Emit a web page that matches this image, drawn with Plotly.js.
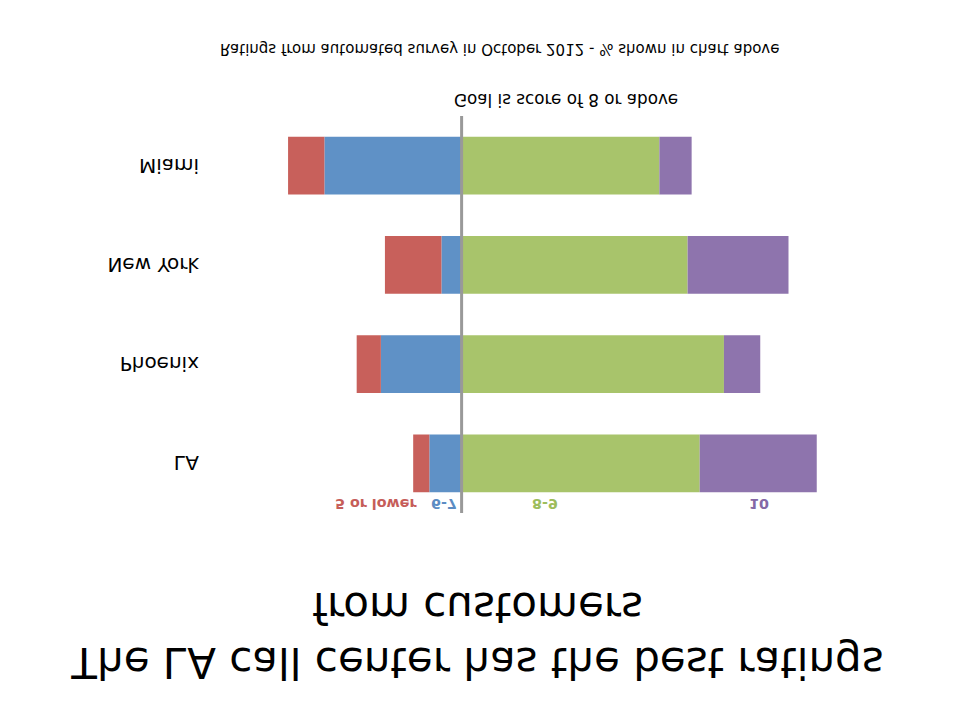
<!DOCTYPE html>
<html>
<head>
<meta charset="utf-8">
<script src="https://cdn.plot.ly/plotly-3.0.1.min.js"></script>
<style>
  html, body { margin: 0; padding: 0; background: #ffffff; }
  #chart { width: 960px; height: 720px; transform: scaleY(-1); transform-origin: 50% 50%; }
</style>
</head>
<body>
<div id="chart"></div>
<script>
// Call centers (top to bottom in the unflipped chart)
const categories = ['LA', 'Phoenix', 'New York', 'Miami'];
// Share of ratings, %
const scoreLow  = [4, 6, 14, 9];    // 5 or lower
const scoreMid  = [8, 20, 5, 34];   // 6-7
const scoreHigh = [59, 65, 56, 49]; // 8-9
const scoreTop  = [29, 9, 25, 8];   // 10
const seriesNames = ['5 or lower', '6-7', '8-9', '10'];

const titleText = 'The LA call center has the best ratings<br>from customers';
const goalText = 'Goal is score of 8 or above';
const noteText = 'Ratings from automated survey in October 2012 - % shown in chart above';

const colors = { low: '#C8605B', mid: '#5F91C6', high: '#A8C46B', top: '#8E74AD' };

const traces = [
  { name: seriesNames[1], y: categories, x: scoreMid.map(v => -v), marker: { color: colors.mid } },
  { name: seriesNames[0], y: categories, x: scoreLow.map(v => -v), marker: { color: colors.low } },
  { name: seriesNames[2], y: categories, x: scoreHigh, marker: { color: colors.high } },
  { name: seriesNames[3], y: categories, x: scoreTop, marker: { color: colors.top } }
].map(t => Object.assign({ type: 'bar', orientation: 'h', hoverinfo: 'skip' }, t));

const labelFont = (c) => ({ family: 'DejaVu Sans', size: 14.3, color: c, weight: 'bold' });

const layout = {
  width: 960,
  height: 720,
  paper_bgcolor: '#ffffff',
  plot_bgcolor: '#ffffff',
  showlegend: false,
  barmode: 'relative',
  bargap: 0.42,
  margin: { l: 280.35, r: 115.45, t: 207, b: 115.7, pad: 0 },
  title: {
    text: titleText,
    x: 0.4974, xanchor: 'center',
    y: 0.9, yref: 'container', yanchor: 'top',
    font: { family: 'DejaVu Sans', size: 42, color: '#000000' }
  },
  xaxis: {
    range: [-45, 95],
    showticklabels: false, showgrid: false, zeroline: false, showline: false, ticks: '',
    fixedrange: true
  },
  yaxis: {
    type: 'category',
    autorange: 'reversed',
    showgrid: false, zeroline: false, showline: false, ticks: '',
    ticklabelstandoff: 80,
    tickfont: { family: 'DejaVu Sans', size: 20, color: '#000000' },
    fixedrange: true
  },
  shapes: [
    { type: 'line', layer: 'above', xref: 'x', yref: 'paper', x0: 0, x1: 0, y0: 0, y1: 1,
      line: { color: '#999999', width: 3 } }
  ],
  annotations: [
    { text: seriesNames[0], xref: 'x', yref: 'paper', x: -10.6, y: 0.977, xanchor: 'right', yanchor: 'middle',
      showarrow: false, font: labelFont('#C65D59') },
    { text: seriesNames[1], xref: 'x', yref: 'paper', x: -4.3, y: 0.977, xanchor: 'center', yanchor: 'middle',
      showarrow: false, font: labelFont('#5B8CC3') },
    { text: seriesNames[2], xref: 'x', yref: 'paper', x: 20.7, y: 0.977, xanchor: 'center', yanchor: 'middle',
      showarrow: false, font: labelFont('#9DBD5C') },
    { text: seriesNames[3], xref: 'x', yref: 'paper', x: 73.8, y: 0.977, xanchor: 'center', yanchor: 'middle',
      showarrow: false, font: labelFont('#8468A6') },
    { text: goalText, xref: 'x', yref: 'paper', x: -2.4, y: -0.0395, xanchor: 'left', yanchor: 'middle',
      showarrow: false, font: { family: 'DejaVu Sans', size: 16.8, color: '#000000' } },
    { text: noteText, xref: 'paper', yref: 'paper', x: (500 - 280.35) / 564.2, y: -0.168, xanchor: 'center', yanchor: 'middle',
      showarrow: false, font: { family: 'DejaVu Sans', size: 15, color: '#000000' } }
  ]
};

Plotly.newPlot('chart', traces, layout, { displayModeBar: false, staticPlot: true });
</script>
</body>
</html>
